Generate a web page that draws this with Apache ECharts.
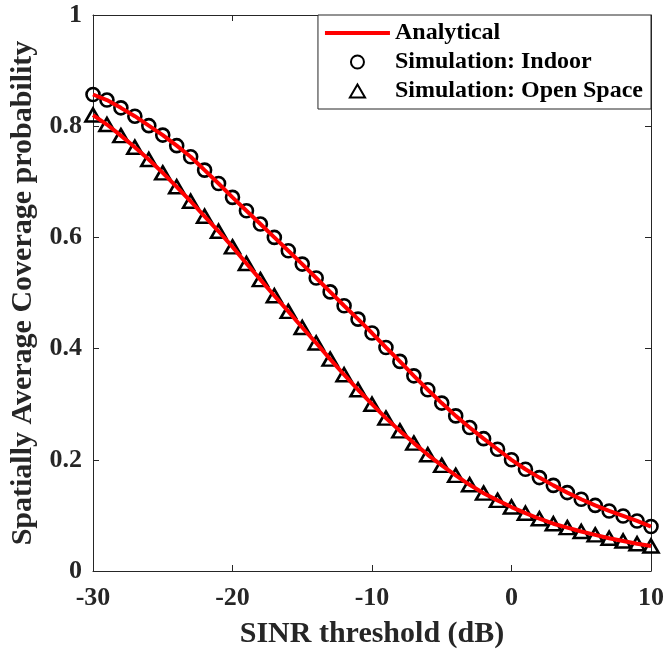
<!DOCTYPE html>
<html lang="en">

<head>
    <meta charset="UTF-8">
    <title>Coverage probability</title>
    <script src="https://cdn.jsdelivr.net/npm/echarts@6/dist/echarts.min.js"></script>
    <style>
        * {
            padding: 0;
            margin: 0;
        }

        html,
        body {
            width: 100%;
            height: 100%;
            background: #fff;
        }

        #main {
            width: 667px;
            height: 654px;
        }
    </style>
</head>

<body>
    <div id="main"></div>
</body>

</html>
<script>
    // SINR threshold (dB), one point per dB
    let sinr = [];
    for (let i = -30; i <= 10; i++) {
        sinr.push(i);
    }
    // values
    let indoor = [0.857, 0.847, 0.833, 0.818, 0.801, 0.784, 0.765, 0.745, 0.721, 0.697,
        0.672, 0.648, 0.624, 0.600, 0.576, 0.552, 0.527, 0.502, 0.477, 0.453,
        0.428, 0.402, 0.377, 0.351, 0.326, 0.302, 0.279, 0.258, 0.238, 0.219,
        0.200, 0.183, 0.168, 0.154, 0.141, 0.129, 0.118, 0.108, 0.099, 0.090, 0.080];
    let openSpace = [0.820, 0.803, 0.783, 0.762, 0.740, 0.716, 0.691, 0.665, 0.638, 0.611,
        0.583, 0.553, 0.524, 0.495, 0.467, 0.438, 0.410, 0.381, 0.353, 0.326,
        0.300, 0.275, 0.252, 0.230, 0.209, 0.190, 0.172, 0.155, 0.140, 0.127,
        0.115, 0.104, 0.094, 0.085, 0.078, 0.071, 0.065, 0.059, 0.054, 0.049, 0.045];
    let xTicks = [-30, -20, -10, 0, 10];
    let yTicks = [0, 0.2, 0.4, 0.6, 0.8, 1];

    function pairs(ys) {
        return sinr.map((x, i) => [x, ys[i]]);
    }

    const font = "'Liberation Serif', 'Times New Roman', serif";
    const axisColor = '#262626';

    var myChart = echarts.init(document.getElementById('main'));

    let baseAxis = {
        axisLine: { show: true, onZero: false, lineStyle: { color: axisColor, width: 1 } },
        axisTick: { show: true, inside: true, length: 6, lineStyle: { color: axisColor } },
        splitLine: { show: false }
    };

    let markerStyle = { color: 'rgba(255,255,255,0)', borderColor: '#000', borderWidth: 2.6, opacity: 1 };

    let option = {
        animation: false,
        backgroundColor: '#fff',
        grid: { left: 93, right: 16, top: 15, bottom: 81 },
        legend: {
            orient: 'vertical',
            right: 16,
            top: 15,
            padding: [6, 8, 6, 7],
            itemGap: 5,
            itemWidth: 65,
            itemHeight: 13,
            symbolKeepAspect: true,
            borderColor: axisColor,
            borderWidth: 1,
            backgroundColor: '#fff',
            textStyle: { fontFamily: font, fontWeight: 'bold', fontSize: 24, color: '#000' },
            data: [
                { name: 'Analytical', icon: 'path://M0,0 H65 V4 H0 Z' },
                { name: 'Simulation: Indoor', icon: 'path://M6,1 A5,5 0 1,1 5.99,1 Z' },
                { name: 'Simulation: Open Space', icon: 'path://M0,12 L7,0 L14,12 Z' }
            ]
        },
        xAxis: [
            Object.assign({}, baseAxis, {
                type: 'value',
                min: -30,
                max: 10,
                interval: 10,
                position: 'bottom',
                name: 'SINR threshold (dB)',
                nameLocation: 'middle',
                nameGap: 48,
                nameTextStyle: { fontFamily: font, fontWeight: 'bold', fontSize: 30, color: axisColor },
                axisLabel: {
                    margin: 14,
                    fontFamily: font, fontWeight: 'bold', fontSize: 26, color: axisColor,
                    customValues: xTicks
                }
            }),
            Object.assign({}, baseAxis, {
                type: 'value', min: -30, max: 10, interval: 10, position: 'top',
                axisLabel: { show: false }
            })
        ],
        yAxis: [
            Object.assign({}, baseAxis, {
                type: 'value',
                min: 0,
                max: 1,
                interval: 0.2,
                position: 'left',
                name: 'Spatially Average Coverage probability',
                nameLocation: 'middle',
                nameGap: 46,
                nameTextStyle: { fontFamily: font, fontWeight: 'bold', fontSize: 30, color: axisColor },
                axisLabel: {
                    margin: 11,
                    fontFamily: font, fontWeight: 'bold', fontSize: 26, color: axisColor,
                    customValues: yTicks
                }
            }),
            Object.assign({}, baseAxis, {
                type: 'value', min: 0, max: 1, interval: 0.2, position: 'right',
                axisLabel: { show: false }
            })
        ],
        series: [
            {
                name: 'Simulation: Indoor',
                type: 'scatter',
                data: pairs(indoor),
                symbol: 'circle',
                symbolSize: 13,
                itemStyle: markerStyle,
                z: 2
            },
            {
                name: 'Simulation: Open Space',
                type: 'scatter',
                data: pairs(openSpace),
                symbol: 'triangle',
                symbolSize: [15, 13],
                itemStyle: markerStyle,
                z: 2
            },
            {
                name: 'Analytical',
                type: 'line',
                data: pairs(indoor),
                showSymbol: false,
                symbol: 'none',
                lineStyle: { color: '#ff0000', width: 4 },
                itemStyle: { color: '#ff0000' },
                z: 3
            },
            {
                name: 'Analytical',
                type: 'line',
                data: pairs(openSpace),
                showSymbol: false,
                symbol: 'none',
                lineStyle: { color: '#ff0000', width: 4 },
                itemStyle: { color: '#ff0000' },
                z: 3
            }
        ]
    };
    myChart.setOption(option);
</script>
